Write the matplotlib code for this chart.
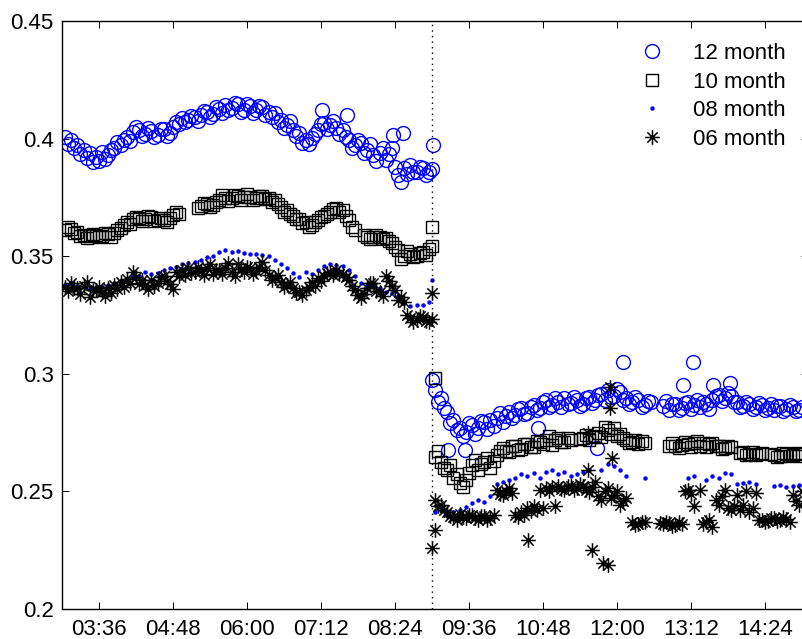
import numpy as np
import matplotlib
matplotlib.use("Agg")
import matplotlib.pyplot as plt
from matplotlib.path import Path

plt.rcParams['font.family'] = ['Liberation Sans', 'DejaVu Sans']
plt.rcParams['font.size'] = 16

nan = np.nan

# time of day in hours, readings every 6 minutes, second readings 3 minutes later
t_day1 = np.arange(3.05, 9.0, 0.1)
t_day2 = np.arange(9.05, 15.0, 0.1)
t_all = np.concatenate([t_day1, t_day2])
t_all_b = t_all + 0.05
t_break = 9.0

tick_pos = [3.6, 4.8, 6.0, 7.2, 8.4, 9.6, 10.8, 12.0, 13.2, 14.4]
tick_lab = ['03:36', '04:48', '06:00', '07:12', '08:24',
            '09:36', '10:48', '12:00', '13:12', '14:24']

m12_day1 = [0.4007, 0.3994, 0.3973, 0.3952, 0.3939, 0.3922, 0.3943, 0.3930, 0.3960, 0.3973,
            0.4007, 0.4028, 0.4037, 0.4020, 0.4032, 0.4015, 0.4041, 0.4024, 0.4071, 0.4088,
            0.4080, 0.4092, 0.4100, 0.4113, 0.4105, 0.4126, 0.4143, 0.4130, 0.4147, 0.4122,
            0.4139, 0.4122, 0.4134, 0.4113, 0.4109, 0.4080, 0.4058, 0.4037, 0.4024, 0.3994,
            0.4003, 0.4037, 0.4067, 0.4058, 0.4045, 0.4037, 0.3994, 0.3973, 0.3981, 0.3952,
            0.3930, 0.3939, 0.3909, 0.3960, 0.3845, 0.3875, 0.3888, 0.3858, 0.3875, 0.3858]
m12_day2 = [0.2931, 0.2897, 0.2838, 0.2804, 0.2770, 0.2753, 0.2782, 0.2770, 0.2795, 0.2804,
            0.2812, 0.2795, 0.2838, 0.2825, 0.2855, 0.2833, 0.2867, 0.2855, 0.2889, 0.2867,
            0.2880, 0.2897, 0.2876, 0.2889, 0.2872, 0.2901, 0.2889, 0.2914, 0.2931, 0.2906,
            0.2923, 0.2897, 0.2880, 0.2889, 0.2867, 0.2880, nan, 0.2863, 0.2846, 0.2872,
            0.2855, 0.2880, 0.2867, 0.2859, 0.2872, 0.2889, 0.2910, 0.2897, 0.2906, 0.2880,
            0.2863, 0.2872, 0.2859, 0.2867, 0.2855, 0.2846, 0.2863, 0.2850, 0.2859, 0.2846]
m12b_day1 = [0.3975, 0.3960, 0.3935, 0.3918, 0.3900, 0.3905, 0.3915, 0.3950, 0.3985, 0.3995,
             0.3990, 0.4050, 0.4010, 0.4045, 0.4008, 0.4040, 0.4012, 0.4048, 0.4060, 0.4070,
             0.4098, 0.4075, 0.4118, 0.4090, 0.4135, 0.4110, 0.4120, 0.4150, 0.4115, 0.4145,
             0.4110, 0.4140, 0.4100, 0.4090, 0.4070, 0.4045, 0.4075, 0.4010, 0.3980, 0.3975,
             0.4020, 0.4060, 0.4040, 0.4075, 0.4020, 0.4005, 0.3960, 0.3995, 0.3940, 0.3975,
             0.3905, 0.3960, 0.3935, 0.3880, 0.3815, 0.3850, 0.3860, 0.3880, 0.3845, 0.3870]
m12b_day2 = [0.2880, 0.2855, 0.2790, 0.2760, 0.2735, 0.2790, 0.2745, 0.2800, 0.2765, 0.2780,
             0.2835, 0.2820, 0.2810, 0.2850, 0.2830, 0.2860, 0.2845, 0.2880, 0.2860, 0.2895,
             0.2860, 0.2870, 0.2900, 0.2862, 0.2895, 0.2875, 0.2910, 0.2890, 0.2900, 0.2935,
             0.2890, 0.2870, 0.2900, 0.2860, 0.2885, nan, nan, 0.2885, 0.2870, 0.2845,
             0.2875, 0.2850, 0.2890, 0.2880, 0.2850, 0.2905, 0.2885, 0.2920, 0.2880, 0.2860,
             0.2880, 0.2850, 0.2875, 0.2845, 0.2870, 0.2862, 0.2840, 0.2868, 0.2842, 0.2860]
m12_out_t = [7.22, 7.62, 8.37, 8.53, 9.02, 9.0, 9.26, 9.54, 10.72, 11.68, 12.1, 13.07, 13.23, 13.56, 13.83]
m12_out_v = [0.4122, 0.4100, 0.4015, 0.4024, 0.3973, 0.2974, 0.2676, 0.2676, 0.2770, 0.2685,
             0.3050, 0.2952, 0.3050, 0.2952, 0.2961]

m10_day1 = [0.3611, 0.3616, 0.3603, 0.3590, 0.3586, 0.3590, 0.3586, 0.3594, 0.3599, 0.3620,
            0.3645, 0.3658, 0.3662, 0.3658, 0.3667, 0.3654, 0.3654, 0.3662, 0.3688, nan,
            nan, nan, 0.3713, 0.3722, 0.3718, 0.3739, 0.3747, 0.3747, 0.3756, 0.3752,
            0.3752, 0.3747, 0.3756, 0.3747, 0.3739, 0.3709, 0.3696, 0.3671, 0.3658, 0.3645,
            0.3633, 0.3654, 0.3671, 0.3688, 0.3705, 0.3696, 0.3654, 0.3611, nan, 0.3582,
            0.3582, 0.3582, 0.3577, 0.3556, 0.3526, 0.3501, 0.3509, 0.3501, 0.3518, 0.3531]
m10_day2 = [0.2646, 0.2625, 0.2591, 0.2557, 0.2536, 0.2548, 0.2612, 0.2591, 0.2625, 0.2600,
            0.2655, 0.2685, 0.2668, 0.2693, 0.2681, 0.2702, 0.2689, 0.2710, 0.2719, 0.2697,
            0.2727, 0.2710, 0.2719, nan, 0.2727, 0.2719, 0.2736, 0.2731, 0.2761, 0.2769,
            0.2744, 0.2719, 0.2710, 0.2702, 0.2706, nan, nan, nan, 0.2693, 0.2693,
            0.2697, 0.2702, 0.2706, 0.2693, 0.2689, 0.2706, 0.2693, 0.2685, 0.2689, nan,
            0.2668, 0.2659, 0.2655, 0.2663, nan, 0.2655, 0.2651, 0.2659, 0.2655, 0.2659]
m10b_day1 = [0.3625, 0.3598, 0.3585, 0.3578, 0.3595, 0.3580, 0.3600, 0.3582, 0.3610, 0.3632,
             0.3635, 0.3668, 0.3650, 0.3670, 0.3648, 0.3662, 0.3645, 0.3675, 0.3678, nan,
             nan, 0.3705, 0.3725, 0.3710, 0.3730, 0.3760, 0.3735, 0.3762, 0.3740, 0.3765,
             0.3740, 0.3758, 0.3742, 0.3730, 0.3722, 0.3690, 0.3680, 0.3660, 0.3640, 0.3625,
             0.3645, 0.3665, 0.3680, 0.3700, 0.3690, 0.3672, 0.3625, nan, 0.3590, 0.3575,
             0.3590, 0.3575, 0.3565, 0.3540, 0.3490, 0.3520, 0.3495, 0.3515, 0.3505, 0.3545]
m10b_day2 = [0.2670, 0.2600, 0.2612, 0.2575, 0.2520, 0.2580, 0.2635, 0.2615, 0.2640, 0.2630,
             0.2672, 0.2670, 0.2695, 0.2675, 0.2700, 0.2690, 0.2715, 0.2700, 0.2735, 0.2720,
             0.2712, 0.2728, nan, 0.2722, 0.2740, 0.2730, 0.2750, 0.2775, 0.2745, 0.2735,
             0.2725, 0.2705, 0.2720, 0.2715, nan, nan, nan, nan, 0.2705, 0.2685,
             0.2710, 0.2690, 0.2715, 0.2705, 0.2700, 0.2695, 0.2680, 0.2695, nan, 0.2665,
             0.2655, 0.2668, 0.2660, nan, 0.2660, 0.2648, 0.2662, 0.2652, 0.2662, 0.2650]
m10_out_t = [9.0, 9.05]
m10_out_v = [0.3624, 0.2982]

m08_day1 = [0.3378, 0.3382, 0.3373, 0.3369, 0.3365, 0.3369, 0.3369, 0.3378, 0.3386, 0.3395,
            0.3403, 0.3412, 0.3416, 0.3433, 0.3424, 0.3429, 0.3441, 0.3450, 0.3454, 0.3467,
            0.3471, 0.3475, 0.3484, 0.3497, 0.3501, 0.3518, 0.3526, 0.3518, 0.3522, 0.3514,
            0.3509, 0.3509, 0.3505, 0.3501, 0.3484, 0.3467, 0.3450, 0.3429, 0.3412, 0.3433,
            0.3424, 0.3441, 0.3458, 0.3467, 0.3463, 0.3458, 0.3441, 0.3416, 0.3386, 0.3378,
            0.3373, 0.3365, 0.3348, 0.3344, 0.3331, 0.3301, 0.3288, 0.3293, 0.3293, 0.3305]
m08_day2 = [0.2412, 0.2421, 0.2404, 0.2412, 0.2421, 0.2434, 0.2451, 0.2463, 0.2455, 0.2480,
            0.2531, 0.2540, 0.2548, 0.2557, 0.2574, 0.2565, 0.2578, 0.2557, 0.2582, 0.2591,
            0.2574, 0.2582, 0.2565, 0.2574, 0.2582, 0.2591, nan, 0.2591, 0.2616, 0.2608,
            0.2591, 0.2565, nan, nan, 0.2557, nan, nan, nan, nan, nan,
            nan, 0.2557, 0.2565, nan, 0.2548, 0.2565, 0.2557, 0.2578, 0.2574, 0.2531,
            0.2536, 0.2540, 0.2531, nan, nan, 0.2523, 0.2527, 0.2519, 0.2523, 0.2527]
m08_out_t = [9.0]
m08_out_v = [0.3399]

m06_day1 = [0.3369, 0.3386, 0.3365, 0.3373, 0.3327, 0.3356, 0.3348, 0.3365, 0.3378, 0.3390,
            0.3403, 0.3433, 0.3382, 0.3378, 0.3399, 0.3386, 0.3416, 0.3382, 0.3433, 0.3441,
            0.3450, 0.3433, 0.3437, 0.3450, 0.3424, 0.3441, 0.3450, 0.3433, 0.3467, 0.3433,
            0.3450, 0.3437, 0.3475, 0.3420, 0.3407, 0.3390, 0.3378, 0.3365, 0.3348, 0.3356,
            0.3390, 0.3407, 0.3416, 0.3433, 0.3441, 0.3424, 0.3399, 0.3356, 0.3322, 0.3365,
            0.3386, 0.3348, 0.3416, 0.3373, 0.3314, 0.3305, 0.3237, 0.3229, 0.3241, 0.3220]
m06_day2 = [0.2463, 0.2442, 0.2412, 0.2391, 0.2404, 0.2387, 0.2400, 0.2378, 0.2395, 0.2387,
            0.2506, 0.2485, 0.2514, 0.2400, 0.2412, 0.2429, 0.2438, 0.2506, 0.2514, 0.2519,
            0.2523, 0.2506, 0.2523, 0.2514, 0.2523, 0.2497, 0.2540, 0.2463, 0.2514, 0.2485,
            0.2442, 0.2472, 0.2370, 0.2361, 0.2370, nan, nan, 0.2361, 0.2366, 0.2357,
            0.2361, 0.2506, 0.2438, 0.2506, 0.2370, 0.2349, 0.2442, 0.2506, 0.2421, 0.2485,
            0.2442, 0.2412, 0.2493, 0.2378, 0.2374, 0.2387, 0.2378, 0.2383, 0.2485, 0.2442]
m06b_day1 = [0.3350, 0.3365, 0.3340, 0.3390, 0.3355, 0.3370, 0.3330, 0.3345, 0.3360, 0.3370,
             0.3385, 0.3410, 0.3400, 0.3360, 0.3375, 0.3410, 0.3395, 0.3360, 0.3415, 0.3420,
             0.3430, 0.3455, 0.3420, 0.3465, 0.3440, 0.3425, 0.3470, 0.3415, 0.3445, 0.3455,
             0.3425, 0.3455, 0.3440, 0.3400, 0.3420, 0.3370, 0.3390, 0.3345, 0.3335, 0.3370,
             0.3375, 0.3395, 0.3430, 0.3420, 0.3425, 0.3410, 0.3375, 0.3335, 0.3340, 0.3385,
             0.3350, 0.3330, 0.3395, 0.3355, 0.3325, 0.3250, 0.3220, 0.3245, 0.3225, 0.3235]
m06b_day2 = [0.2440, 0.2420, 0.2395, 0.2380, 0.2390, 0.2400, 0.2385, 0.2395, 0.2380, 0.2400,
             0.2490, 0.2500, 0.2495, 0.2390, 0.2400, 0.2415, 0.2420, 0.2430, 0.2500, 0.2440,
             0.2510, 0.2525, 0.2505, 0.2530, 0.2505, 0.2520, 0.2480, 0.2500, 0.2470, 0.2500,
             0.2460, nan, 0.2358, 0.2372, nan, nan, 0.2365, 0.2372, 0.2355, 0.2368,
             0.2500, 0.2490, nan, 0.2360, 0.2380, 0.2465, 0.2480, 0.2430, 0.2440, 0.2420,
             0.2500, 0.2430, 0.2380, 0.2370, 0.2385, 0.2375, 0.2390, 0.2372, 0.2460, 0.2500]
m06_out_t = [9.0, 9.0, 9.05, 10.56, 11.59, 11.77, 11.85, 11.89, 11.89, 11.53, 11.92, 11.53]
m06_out_v = [0.3344, 0.2259, 0.2336, 0.2293, 0.2251, 0.2196, 0.2187, 0.2944, 0.2855, 0.2590,
             0.2642, 0.2748]

# matlab style asterisk: plus and cross together
d = 0.7071
star = Path([(-1, 0), (1, 0), (0, -1), (0, 1), (-d, -d), (d, d), (-d, d), (d, -d)],
            [Path.MOVETO, Path.LINETO] * 4)

fig = plt.figure(figsize=(8.03, 6.39), dpi=100)
ax = fig.add_axes([62 / 803, 30 / 639, 746 / 803, 588 / 639])

y12 = np.concatenate([m12_day1, m12_day2])
y12b = np.concatenate([m12b_day1, m12b_day2])
y10 = np.concatenate([m10_day1, m10_day2])
y10b = np.concatenate([m10b_day1, m10b_day2])
y08 = np.concatenate([m08_day1, m08_day2])
y06 = np.concatenate([m06_day1, m06_day2])
y06b = np.concatenate([m06b_day1, m06b_day2])

circ = dict(linestyle='none', marker='o', ms=10, mfc='none', mec='blue', mew=1.0)
sq = dict(linestyle='none', marker='s', ms=8.5, mfc='none', mec='black', mew=1.0)
dot = dict(linestyle='none', marker='o', ms=3.2, mfc='blue', mec='blue', mew=0)
ast = dict(linestyle='none', marker=star, ms=10.5, mfc='none', mec='black', mew=1.1)

ax.plot(t_all, y12, label='12 month', **circ)
ax.plot(t_all_b, y12b, **circ)
ax.plot(m12_out_t, m12_out_v, **circ)
ax.plot(t_all, y10, label='10 month', **sq)
ax.plot(t_all_b, y10b, **sq)
ax.plot(m10_out_t, m10_out_v, **sq)
ax.plot(t_all, y08, label='08 month', **dot)
ax.plot(m08_out_t, m08_out_v, **dot)
ax.plot(t_all, y06, label='06 month', **ast)
ax.plot(t_all_b, y06b, **ast)
ax.plot(m06_out_t, m06_out_v, **ast)

ax.axvline(t_break, color='black', linestyle=(0, (1, 3)), linewidth=1.0)

ax.set_xlim(3.0, 15.1)
ax.set_ylim(0.2, 0.45)
ax.set_xticks(tick_pos)
ax.set_xticklabels(tick_lab)
ax.set_yticks([0.2, 0.25, 0.3, 0.35, 0.4, 0.45])
ax.set_yticklabels(['0.2', '0.25', '0.3', '0.35', '0.4', '0.45'])
ax.tick_params(direction='in', length=5, width=0.7, top=True, right=True, labelsize=16)
ax.tick_params(axis='x', pad=7)
ax.tick_params(axis='y', pad=6)
for sp in ax.spines.values():
    sp.set_linewidth(1.0)

ax.legend(loc='upper left', bbox_to_anchor=(641 / 803, 1 - 43 / 639),
          bbox_transform=fig.transFigure, frameon=False, numpoints=1,
          handlelength=1.0, handletextpad=1.35, labelspacing=0.34,
          borderpad=0, borderaxespad=0, fontsize=16)

fig.savefig('out.png', dpi=100)
